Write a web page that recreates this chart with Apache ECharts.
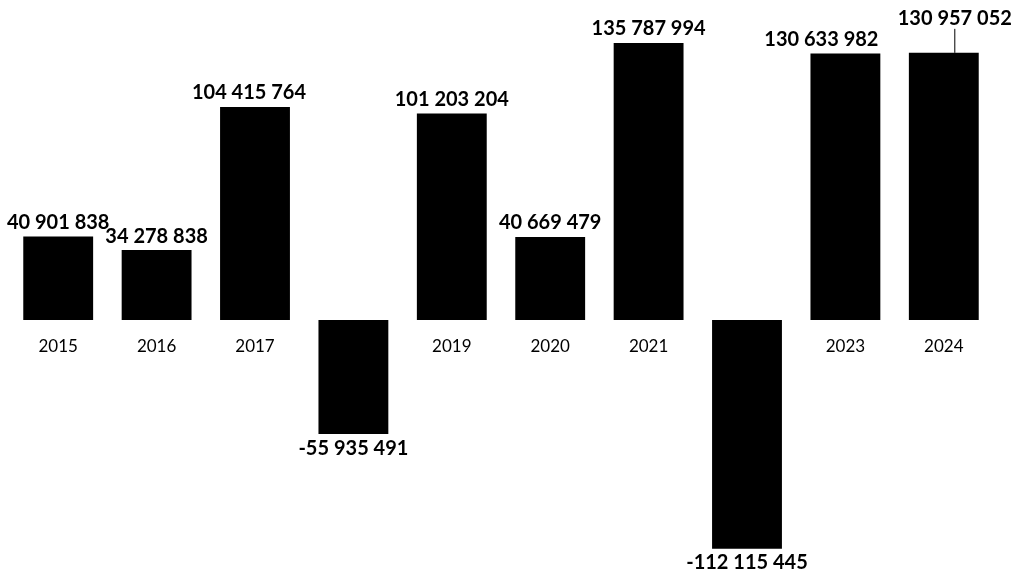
<!DOCTYPE html>
<html>
<head>
<meta charset="utf-8">
<script src="https://cdn.jsdelivr.net/npm/echarts@6/dist/echarts.min.js"></script>
<style>html,body{margin:0;padding:0;background:#fff;}#c{width:1013px;height:574px;}</style>
</head>
<body>
<div id="c"></div>
<script>
var categories = ['2015','2016','2017','2018','2019','2020','2021','2022','2023','2024'];
var values = [40901838, 34278838, 104415764, -55935491, 101203204, 40669479, 135787994, -112115445, 130633982, 130957052];

function fmt(v){
  var s = Math.abs(v).toString().replace(/\B(?=(\d{3})+(?!\d))/g, ' ');
  return (v < 0 ? '-' : '') + s;
}

var data = values.map(function(v, i){
  return {
    value: v,
    label: { position: v < 0 ? 'bottom' : 'top' },
    labelLine: { show: i === values.length - 1 }
  };
});

var chart = echarts.init(document.getElementById('c'));
chart.setOption({
  animation: false,
  grid: { left: 9, right: 20, top: 34.4, bottom: 9.2, containLabel: false, outerBoundsMode: 'none' },
  xAxis: {
    type: 'category',
    data: categories,
    position: 'bottom',
    offset: -244.8,
    axisLine: { show: false, onZero: false },
    axisTick: { show: false },
    axisLabel: { show: true, fontFamily: 'Lato', fontSize: 17, color: '#000', margin: 18 }
  },
  yAxis: {
    type: 'value', min: -120000000, max: 140000000, show: false,
    splitLine: { show: false }
  },
  series: [{
    type: 'bar',
    data: data,
    barWidth: '71%',
    itemStyle: { color: '#000' },
    label: {
      show: true,
      fontFamily: 'Lato', fontWeight: 700, fontSize: 20, color: '#000',
      distance: 4,
      formatter: function(p){ return fmt(p.value); }
    },
    labelLine: { show: false, lineStyle: { color: '#000', width: 1 } },
    labelLayout: function(p){
      if (p.dataIndex === 2) return { dx: -6 };
      if (p.dataIndex === 8) return { dx: -24 };
      if (p.dataIndex === 9) return { dx: 11, dy: -20 };
      return {};
    }
  }]
});
</script>
</body>
</html>
